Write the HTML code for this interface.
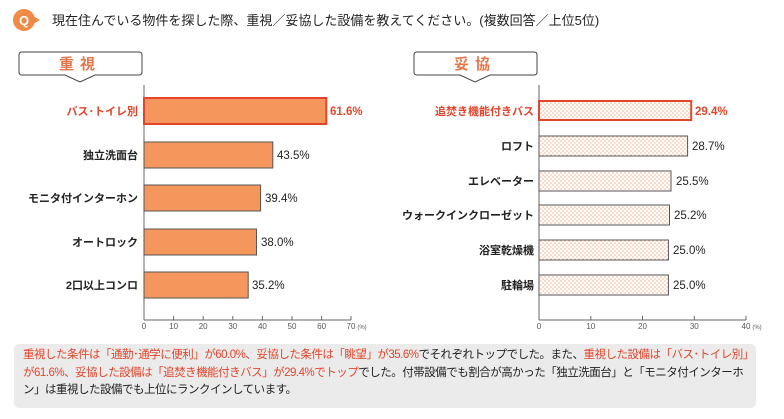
<!DOCTYPE html>
<html><head><meta charset="utf-8"><style>
body{margin:0;width:784px;height:419px;background:#fff;overflow:hidden;font-family:"Liberation Sans","Noto Sans CJK JP",sans-serif;}
.r{color:#e2452b}
#note{position:absolute;left:14px;top:344px;width:742px;height:64px;background:#ebebeb;border-radius:5px;padding:3px 0 0 9px;box-sizing:border-box;font-size:11.5px;line-height:17.5px;color:#222;letter-spacing:-0.5px;white-space:nowrap}
</style></head><body>
<svg width="784" height="419" style="position:absolute;left:0;top:0" font-family="Liberation Sans, Noto Sans CJK JP, sans-serif">
<defs><pattern id="dots" width="4" height="4" patternUnits="userSpaceOnUse"><rect width="4" height="4" fill="#fff"/><circle cx="1" cy="1" r="0.8" fill="#f6b08a"/><circle cx="3" cy="3" r="0.8" fill="#f6b08a"/></pattern></defs>
<circle cx="24" cy="20" r="11" fill="#f08a45"/><path d="M33 16 L40 20 L33 24Z" fill="#f08a45"/>
<text x="24" y="25" font-size="13" font-weight="bold" fill="#fff" text-anchor="middle">Q</text>
<text x="52" y="25" font-size="13" fill="#222">現在住んでいる物件を探した際、重視／妥協した設備を教えてください。(複数回答／上位5位)</text>
<g fill="#fff" stroke="#444" stroke-width="1">
<path d="M22 52 H139 Q142 52 142 55 V72 Q142 75 139 75 H95 L80 82 L65 75 H22 Q19 75 19 72 V55 Q19 52 22 52Z"/>
<path d="M417 52 H534 Q537 52 537 55 V72 Q537 75 534 75 H490 L475 82 L460 75 H417 Q414 75 414 72 V55 Q414 52 417 52Z"/>
</g>
<text x="80" y="69" font-size="15" font-weight="bold" fill="#e8764a" text-anchor="middle" letter-spacing="6">重視</text>
<text x="475" y="69" font-size="15" font-weight="bold" fill="#e8764a" text-anchor="middle" letter-spacing="6">妥協</text>
<g stroke="#666" stroke-width="1"><line x1="144" y1="85" x2="144" y2="320"/><line x1="144" y1="320" x2="351" y2="320"/>
<line x1="539" y1="85" x2="539" y2="320"/><line x1="539" y1="320" x2="746" y2="320"/></g>
<g font-size="8" fill="#555" text-anchor="middle">
<g stroke="#666"><line x1="144" y1="316" x2="144" y2="320"/><line x1="173.6" y1="316" x2="173.6" y2="320"/><line x1="203.2" y1="316" x2="203.2" y2="320"/><line x1="232.8" y1="316" x2="232.8" y2="320"/><line x1="262.4" y1="316" x2="262.4" y2="320"/><line x1="292" y1="316" x2="292" y2="320"/><line x1="321.6" y1="316" x2="321.6" y2="320"/><line x1="351" y1="316" x2="351" y2="320"/>
<line x1="590.8" y1="316" x2="590.8" y2="320"/><line x1="642.5" y1="316" x2="642.5" y2="320"/><line x1="694.3" y1="316" x2="694.3" y2="320"/><line x1="746" y1="316" x2="746" y2="320"/></g>
<text x="144" y="329">0</text><text x="173.6" y="329">10</text><text x="203.2" y="329">20</text><text x="232.8" y="329">30</text><text x="262.4" y="329">40</text><text x="292" y="329">50</text><text x="321.6" y="329">60</text><text x="351" y="329">70</text><text x="362" y="329" font-size="6">(%)</text>
<text x="539" y="329">0</text><text x="590.8" y="329">10</text><text x="642.5" y="329">20</text><text x="694.3" y="329">30</text><text x="746" y="329">40</text><text x="757" y="329" font-size="6">(%)</text>
</g>
<g stroke="#555" stroke-width="1" fill="#f5975c">
<rect x="144" y="98" width="182.3" height="26" stroke="#e2452b" stroke-width="2"/>
<rect x="144" y="142" width="128.8" height="26"/>
<rect x="144" y="185" width="116.6" height="26"/>
<rect x="144" y="229" width="112.5" height="26"/>
<rect x="144" y="272" width="104.2" height="26"/>
</g>
<g font-size="11" font-weight="bold" text-anchor="end" fill="#222">
<text x="138" y="115" fill="#e2452b">バス･トイレ別</text>
<text x="138" y="159">独立洗面台</text>
<text x="138" y="202">モニタ付インターホン</text>
<text x="138" y="246">オートロック</text>
<text x="138" y="289">2口以上コンロ</text>
</g>
<g font-size="11.5" fill="#222">
<text x="330" y="115" fill="#e2452b" font-weight="bold">61.6%</text>
<text x="277" y="159">43.5%</text>
<text x="265" y="202">39.4%</text>
<text x="261" y="246">38.0%</text>
<text x="252" y="289">35.2%</text>
</g>
<g stroke="#555" stroke-width="1" fill="url(#dots)">
<rect x="539" y="101" width="152.2" height="19" stroke="#e2452b" stroke-width="2"/>
<rect x="539" y="136" width="148.6" height="20"/>
<rect x="539" y="171" width="132" height="20"/>
<rect x="539" y="205" width="130.5" height="20"/>
<rect x="539" y="240" width="129.4" height="20"/>
<rect x="539" y="275" width="129.4" height="20"/>
</g>
<g font-size="11" font-weight="bold" text-anchor="end" fill="#222">
<text x="534" y="115" fill="#e2452b">追焚き機能付きバス</text>
<text x="534" y="150">ロフト</text>
<text x="534" y="185">エレベーター</text>
<text x="534" y="219">ウォークインクローゼット</text>
<text x="534" y="254">浴室乾燥機</text>
<text x="534" y="289">駐輪場</text>
</g>
<g font-size="11.5" fill="#222">
<text x="695" y="115" fill="#e2452b" font-weight="bold">29.4%</text>
<text x="692" y="150">28.7%</text>
<text x="676" y="185">25.5%</text>
<text x="674" y="219">25.2%</text>
<text x="673" y="254">25.0%</text>
<text x="673" y="289">25.0%</text>
</g>
</svg>
<div id="note"><span class="r">重視した条件は「通勤･通学に便利」が60.0%、妥協した条件は「眺望」が35.6%</span>でそれぞれトップでした。また、<span class="r">重視した設備は「バス･トイレ別」</span><br><span class="r">が61.6%、妥協した設備は「追焚き機能付きバス」が29.4%でトップ</span>でした。付帯設備でも割合が高かった「独立洗面台」と「モニタ付インターホ<br>ン」は重視した設備でも上位にランクインしています。</div>
</body></html>
